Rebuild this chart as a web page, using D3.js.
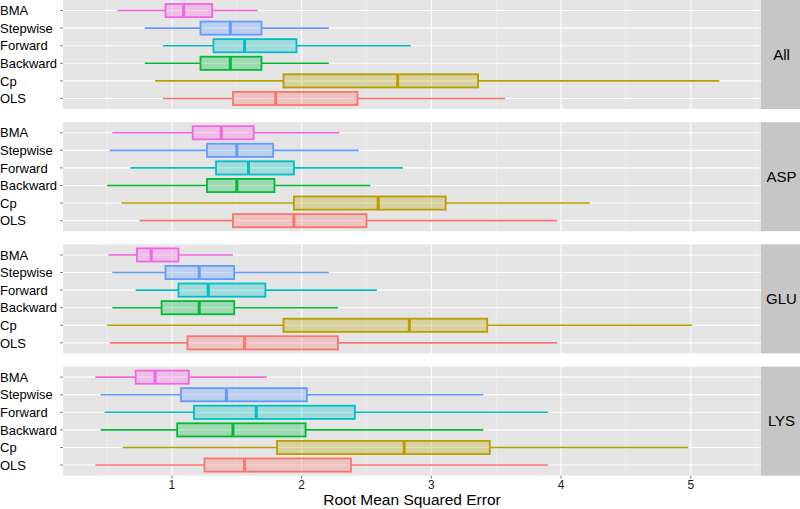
<!DOCTYPE html>
<html>
<head>
<meta charset="utf-8">
<script src="https://cdn.jsdelivr.net/npm/d3@7"></script>
<style>
  body { margin: 0; background: white; }
  text { font-family: "Liberation Sans", Arial, Helvetica, sans-serif; }
</style>
</head>
<body>
<div class="chart"></div>
<script>
// categories, top to bottom
const methods = ["BMA", "Stepwise", "Forward", "Backward", "Cp", "OLS"];
const panels = ["All", "ASP", "GLU", "LYS"];
const xTicks = [1, 2, 3, 4, 5];

// box stats per method: [lower whisker, q1, median, q3, upper whisker]
const statsAll = [
  [0.58, 0.95, 1.09, 1.31, 1.66],
  [0.79, 1.22, 1.45, 1.69, 2.21],
  [0.93, 1.32, 1.56, 1.96, 2.84],
  [0.79, 1.22, 1.45, 1.69, 2.21],
  [0.87, 1.86, 2.74, 3.36, 5.22],
  [0.93, 1.47, 1.80, 2.43, 3.57]
];
const statsASP = [
  [0.54, 1.16, 1.38, 1.63, 2.29],
  [0.52, 1.27, 1.50, 1.78, 2.44],
  [0.68, 1.34, 1.59, 1.94, 2.78],
  [0.50, 1.27, 1.50, 1.79, 2.53],
  [0.61, 1.94, 2.59, 3.11, 4.22],
  [0.75, 1.47, 1.94, 2.50, 3.97]
];
const statsGLU = [
  [0.51, 0.73, 0.84, 1.05, 1.47],
  [0.54, 0.95, 1.21, 1.48, 2.21],
  [0.72, 1.05, 1.28, 1.72, 2.58],
  [0.54, 0.92, 1.21, 1.48, 2.28],
  [0.50, 1.86, 2.83, 3.43, 5.01],
  [0.52, 1.12, 1.56, 2.28, 3.97]
];
const statsLYS = [
  [0.41, 0.72, 0.87, 1.13, 1.73],
  [0.45, 1.07, 1.42, 2.04, 3.40],
  [0.48, 1.17, 1.65, 2.41, 3.90],
  [0.45, 1.04, 1.47, 2.03, 3.40],
  [0.62, 1.81, 2.79, 3.45, 4.98],
  [0.41, 1.25, 1.56, 2.38, 3.90]
];
const panelStats = [statsAll, statsASP, statsGLU, statsLYS];

const colors = {
  OLS: "#F8766D", Cp: "#B79F00", Backward: "#00BA38",
  Forward: "#00BFC4", Stepwise: "#619CFF", BMA: "#F564E3"
};

const width = 800, height = 509;
const left = 63, right = 761, stripW = 39;
const panelH = 109, panelGap = 13.2;

const svg = d3.select(".chart")
  .append("svg")
  .attr("width", width)
  .attr("height", height);

const xScale = d3.scaleLinear()
  .domain([0.16, 5.541])
  .range([left, right]);

const yScale = d3.scalePoint()
  .domain(methods)
  .range([0, panelH])
  .padding(0.6);

const boxH = yScale.step() * 0.75;
const minorTicks = d3.range(0.5, 5.6, 1);

panels.forEach((name, i) => {
  const top = i * (panelH + panelGap);
  const g = svg.append("g").attr("transform", `translate(0,${top})`);

  // panel background
  g.append("rect")
    .attr("x", left).attr("y", 0)
    .attr("width", right - left).attr("height", panelH)
    .attr("fill", "#E5E5E5");

  // minor grid
  g.selectAll(".minor")
    .data(minorTicks)
    .enter().append("line")
    .attr("x1", d => xScale(d)).attr("x2", d => xScale(d))
    .attr("y1", 0).attr("y2", panelH)
    .attr("stroke", "#F2F2F2").attr("stroke-width", 0.6);

  // major grid
  g.selectAll(".major")
    .data(xTicks)
    .enter().append("line")
    .attr("x1", d => xScale(d)).attr("x2", d => xScale(d))
    .attr("y1", 0).attr("y2", panelH)
    .attr("stroke", "white").attr("stroke-width", 1.1);

  g.selectAll(".hgrid")
    .data(methods)
    .enter().append("line")
    .attr("x1", left).attr("x2", right)
    .attr("y1", d => yScale(d)).attr("y2", d => yScale(d))
    .attr("stroke", "white").attr("stroke-width", 1.1);

  // strip
  g.append("rect")
    .attr("x", right).attr("y", 0)
    .attr("width", stripW).attr("height", panelH)
    .attr("fill", "#C6C6C6");
  g.append("text")
    .attr("x", right + stripW / 2 + 1)
    .attr("y", panelH / 2)
    .attr("dy", "0.35em")
    .attr("text-anchor", "middle")
    .attr("font-size", 15)
    .attr("fill", "black")
    .text(name);

  // y axis ticks + labels
  g.selectAll(".ytick")
    .data(methods)
    .enter().append("line")
    .attr("x1", left - 3).attr("x2", left)
    .attr("y1", d => yScale(d)).attr("y2", d => yScale(d))
    .attr("stroke", "#7F7F7F");

  g.selectAll(".ylab")
    .data(methods)
    .enter().append("text")
    .attr("x", 0)
    .attr("y", d => yScale(d))
    .attr("dy", "0.36em")
    .attr("font-size", 13)
    .attr("fill", "black")
    .text(d => d);

  // boxes
  const rows = methods.map((m, j) => ({method: m, s: panelStats[i][j]}));
  const box = g.selectAll(".box")
    .data(rows)
    .enter().append("g");

  box.append("line") // lower whisker
    .attr("x1", d => xScale(d.s[0])).attr("x2", d => xScale(d.s[1]))
    .attr("y1", d => yScale(d.method)).attr("y2", d => yScale(d.method))
    .attr("stroke", d => colors[d.method]).attr("stroke-width", 1.6);

  box.append("line") // upper whisker
    .attr("x1", d => xScale(d.s[3])).attr("x2", d => xScale(d.s[4]))
    .attr("y1", d => yScale(d.method)).attr("y2", d => yScale(d.method))
    .attr("stroke", d => colors[d.method]).attr("stroke-width", 1.6);

  box.append("rect")
    .attr("x", d => xScale(d.s[1]))
    .attr("y", d => yScale(d.method) - boxH / 2)
    .attr("width", d => xScale(d.s[3]) - xScale(d.s[1]))
    .attr("height", boxH)
    .attr("fill", d => colors[d.method])
    .attr("fill-opacity", 0.3)
    .attr("stroke", d => colors[d.method])
    .attr("stroke-width", 1.8);

  box.append("line") // median
    .attr("x1", d => xScale(d.s[2])).attr("x2", d => xScale(d.s[2]))
    .attr("y1", d => yScale(d.method) - boxH / 2)
    .attr("y2", d => yScale(d.method) + boxH / 2)
    .attr("stroke", d => colors[d.method]).attr("stroke-width", 3);
});

// x axis
const axisY = 3 * (panelH + panelGap) + panelH;
const xAxis = svg.append("g").attr("transform", `translate(0,${axisY})`);

xAxis.selectAll(".xtick")
  .data(xTicks)
  .enter().append("line")
  .attr("x1", d => xScale(d)).attr("x2", d => xScale(d))
  .attr("y1", 0).attr("y2", 3)
  .attr("stroke", "#7F7F7F");

xAxis.selectAll(".xlab")
  .data(xTicks)
  .enter().append("text")
  .attr("x", d => xScale(d))
  .attr("y", 13)
  .attr("text-anchor", "middle")
  .attr("font-size", 12)
  .attr("fill", "#1A1A1A")
  .text(d => d);

svg.append("text")
  .attr("x", (left + right) / 2)
  .attr("y", 505)
  .attr("text-anchor", "middle")
  .attr("font-size", 15.5)
  .attr("fill", "black")
  .text("Root Mean Squared Error");
</script>
</body>
</html>
